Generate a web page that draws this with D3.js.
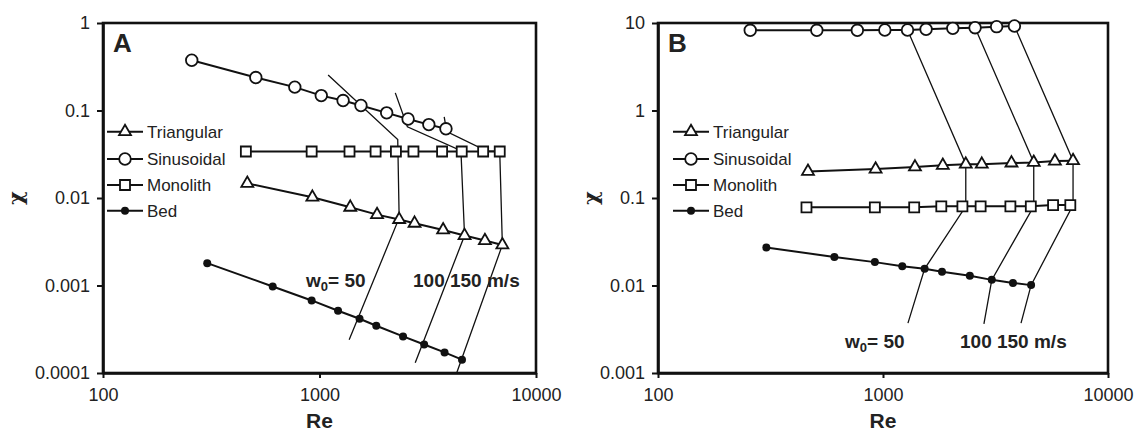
<!DOCTYPE html>
<html>
<head>
<meta charset="utf-8">
<script src="https://cdn.jsdelivr.net/npm/d3@7"></script>
<style>
  body { margin: 0; background: #fff; }
  text { font-family: "Liberation Sans", Arial, sans-serif; fill: #222; }
</style>
</head>
<body>
<script>
// Reynolds numbers (shared by both panels)
var reSin  = [257, 508, 769, 1019, 1285, 1554, 2043, 2566, 3199, 3838];
var reTri  = [464, 927, 1387, 1844, 2333, 2748, 3724, 4677, 5808, 6993];
var reMono = [457, 920, 1376, 1816, 2254, 2716, 3683, 4539, 5700, 6800];
var reBed  = [303, 608, 920, 1218, 1531, 1829, 2432, 3044, 3781, 4552];

// panel A values
var sinA  = [0.375, 0.238, 0.185, 0.148, 0.130, 0.114, 0.094, 0.080, 0.069, 0.0618];
var triA  = [0.0147, 0.0102, 0.00783, 0.00646, 0.00567, 0.00514, 0.00431, 0.00372, 0.00326, 0.00291];
var monoA = [0.034, 0.034, 0.034, 0.034, 0.034, 0.034, 0.034, 0.034, 0.034, 0.034];
var bedA  = [0.00180, 0.000975, 0.000675, 0.000514, 0.000417, 0.000347, 0.000262, 0.000212, 0.000172, 0.000142];

// panel B values
var sinB  = [8.25, 8.25, 8.25, 8.32, 8.32, 8.47, 8.69, 8.84, 9.08, 9.24];
var triB  = [0.201, 0.214, 0.226, 0.236, 0.243, 0.243, 0.251, 0.255, 0.264, 0.267];
var monoB = [0.0783, 0.0783, 0.0783, 0.0804, 0.0804, 0.0804, 0.0804, 0.0804, 0.083, 0.083];
var bedB  = [0.0271, 0.0212, 0.0185, 0.0166, 0.0155, 0.0144, 0.0129, 0.0116, 0.0107, 0.0101];

// constant w0 guide lines [Re, chi]
var g50A  = [[1096, 0.255], [2298, 0.0467], [2333, 0.00591], [1371, 0.000240]];
var g100A = [[2239, 0.159], [2547, 0.0651], [4500, 0.0347], [4677, 0.00372], [2768, 0.000131]];
var g150A = [[3767, 0.0847], [3867, 0.0576], [5900, 0.0345], [6800, 0.034], [6993, 0.00291], [4301, 0.0001]];
var g50B  = [[1285, 8.32], [2333, 0.243], [2333, 0.0804], [1531, 0.0155], [1291, 0.00372]];
var g100B = [[2566, 8.84], [4677, 0.255], [4677, 0.0804], [3044, 0.0116], [2809, 0.00365]];
var g150B = [[3838, 9.24], [6993, 0.267], [6993, 0.083], [4552, 0.0101], [4106, 0.00372]];

var xTicks = [100, 1000, 10000];
var yTicksA = [0.0001, 0.001, 0.01, 0.1, 1];
var yTicksB = [0.001, 0.01, 0.1, 1, 10];
var legendNames = ["Triangular", "Sinusoidal", "Monolith", "Bed"];

var svg = d3.select("body").append("svg").attr("width", 1137).attr("height", 435);

function drawPanel(p) {
    var x = d3.scaleLog().domain([100, 10000]).range([p.left, p.right]);
    var y = d3.scaleLog().domain([p.yTicks[0], p.yTicks[p.yTicks.length - 1]]).range([373, 23]);
    var g = svg.append("g");

    // frame
    g.append("rect").attr("x", p.left).attr("y", 23)
        .attr("width", p.right - p.left).attr("height", 350)
        .style("fill", "none").style("stroke", "#111").style("stroke-width", 2.6);

    var xa = g.append("g").attr("transform", "translate(0,373)")
        .call(d3.axisBottom(x).tickValues(xTicks).tickFormat(function(d) { return String(d); })
            .tickSize(5).tickSizeOuter(0).tickPadding(10));
    var ya = g.append("g").attr("transform", "translate(" + p.left + ",0)")
        .call(d3.axisLeft(y).tickValues(p.yTicks).tickFormat(function(d) { return String(d); })
            .tickSize(6).tickSizeOuter(0).tickPadding(7));
    [xa, ya].forEach(function(a) {
        a.select(".domain").style("stroke", "#111").style("stroke-width", 2.6);
        a.selectAll(".tick line").style("stroke", "#111").style("stroke-width", 2);
        a.selectAll(".tick text").style("font-size", "18px").style("fill", "#222")
            .style("font-family", "'Liberation Sans', Arial, sans-serif");
    });

    g.append("text").attr("x", (p.left + p.right) / 2).attr("y", 428)
        .attr("text-anchor", "middle").style("font-size", "21px").style("font-weight", "bold")
        .text("Re");
    g.append("text").attr("transform", "translate(" + p.chiX + ",198) rotate(-90)")
        .attr("text-anchor", "middle").attr("dy", "0.35em")
        .style("font-size", "21px").style("font-weight", "bold")
        .style("font-family", "'DejaVu Serif', serif")
        .text("χ");
    g.append("text").attr("x", p.left + 10).attr("y", 52)
        .style("font-size", "26px").style("font-weight", "bold").text(p.letter);

    var line = d3.line().x(function(d) { return x(d[0]); }).y(function(d) { return y(d[1]); });

    // guide lines
    p.guides.forEach(function(gl) {
        g.append("path").attr("d", line(gl))
            .style("fill", "none").style("stroke", "#111").style("stroke-width", 1.3);
    });

    var series = [
        {re: reBed, v: p.bed, type: "dot"},
        {re: reMono, v: p.mono, type: "square"},
        {re: reTri, v: p.tri, type: "triangle"},
        {re: reSin, v: p.sin, type: "circle"}
    ];
    series.forEach(function(s) {
        var pts = s.re.map(function(r, i) { return [r, s.v[i]]; });
        g.append("path").attr("d", line(pts))
            .style("fill", "none").style("stroke", "#111").style("stroke-width", 2);
        pts.forEach(function(d) {
            marker(g, s.type, x(d[0]), y(d[1]));
        });
    });

    // legend
    var types = ["triangle", "circle", "square", "dot"];
    var rows = [131.7, 159, 185, 210.7];
    legendNames.forEach(function(name, i) {
        g.append("line").attr("x1", p.legX).attr("x2", p.legX + 36)
            .attr("y1", rows[i]).attr("y2", rows[i])
            .style("stroke", "#111").style("stroke-width", 2);
        marker(g, types[i], p.legX + 18, rows[i]);
        g.append("text").attr("x", p.legX + 40).attr("y", rows[i]).attr("dy", "0.35em")
            .style("font-size", "17px").text(name);
    });

    // w0 labels
    var lab = g.append("text").attr("x", p.lab50[0]).attr("y", p.lab50[1])
        .style("font-size", "19px").style("font-weight", "bold");
    lab.append("tspan").text("w");
    lab.append("tspan").attr("dy", 4).style("font-size", "13px").text("0");
    lab.append("tspan").attr("dy", -4).text("= 50");
    g.append("text").attr("x", p.lab100[0]).attr("y", p.lab100[1])
        .style("font-size", "19px").style("font-weight", "bold").text(p.lab100[2]);
}

function marker(g, type, cx, cy) {
    if (type === "circle") {
        g.append("circle").attr("cx", cx).attr("cy", cy).attr("r", 5.8)
            .style("fill", "#fff").style("stroke", "#111").style("stroke-width", 1.8);
    } else if (type === "dot") {
        g.append("circle").attr("cx", cx).attr("cy", cy).attr("r", 4)
            .style("fill", "#111");
    } else if (type === "square") {
        g.append("path").attr("transform", "translate(" + cx + "," + cy + ")")
            .attr("d", d3.symbol(d3.symbolSquare, 100)())
            .style("fill", "#fff").style("stroke", "#111").style("stroke-width", 1.8);
    } else {
        g.append("path").attr("transform", "translate(" + cx + "," + cy + ")")
            .attr("d", d3.symbol(d3.symbolTriangle, 62)())
            .style("fill", "#fff").style("stroke", "#111").style("stroke-width", 1.8);
    }
}

drawPanel({
    letter: "A", left: 103, right: 536, yTicks: yTicksA, chiX: 16,
    sin: sinA, tri: triA, mono: monoA, bed: bedA,
    guides: [g50A, g100A, g150A], legX: 107,
    lab50: [306, 287], lab100: [413, 287, "100 150 m/s"]
});
drawPanel({
    letter: "B", left: 658, right: 1108, yTicks: yTicksB, chiX: 591,
    sin: sinB, tri: triB, mono: monoB, bed: bedB,
    guides: [g50B, g100B, g150B], legX: 673,
    lab50: [845, 348], lab100: [960, 348, "100 150 m/s"]
});
</script>
</body>
</html>
